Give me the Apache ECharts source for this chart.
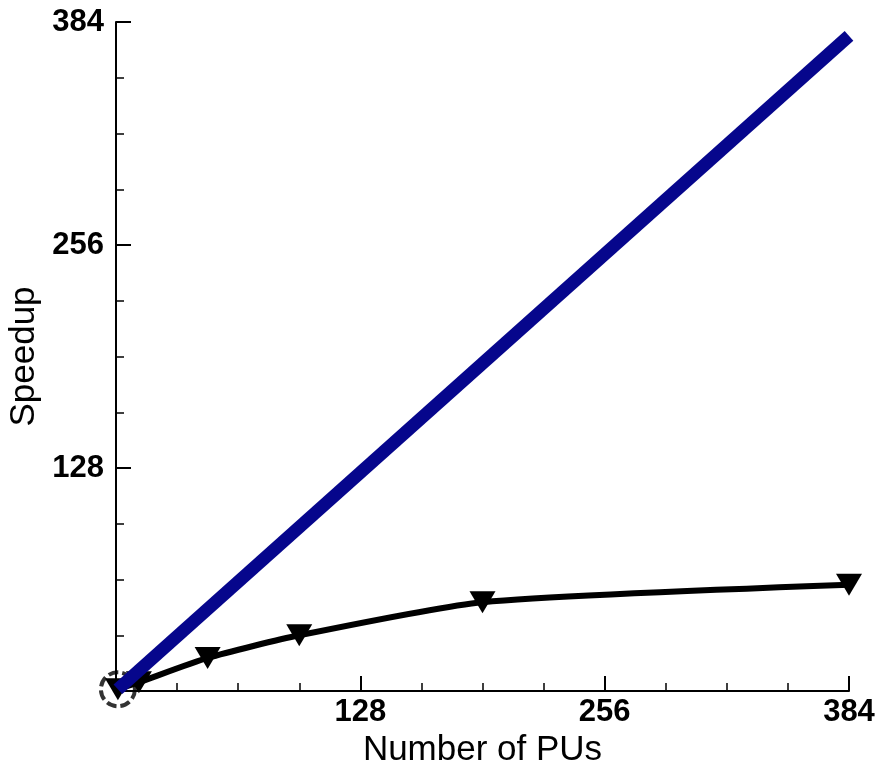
<!DOCTYPE html>
<html>
<head>
<meta charset="utf-8">
<title>Speedup</title>
<script src="https://cdn.jsdelivr.net/npm/echarts@6/dist/echarts.min.js"></script>
<style>
html,body{margin:0;padding:0;background:#fff;}
#main{width:879px;height:767px;}
</style>
</head>
<body>
<div id="main"></div>
<script>
// 数据部分
var xTicks = [0, 128, 256, 384];
var yTicks = [0, 128, 256, 384];
var pus = [1, 12, 48, 96, 192, 384];        // 处理器个数
var speedup = [1, 5, 19, 32, 51, 61];       // 实测加速比
var idealX = [1, 384];
var idealY = [1, 376];                      // 理想线
var markX = [1];
var markY = [1];

function pairs(xs, ys){
    var out = [];
    for(var i = 0; i < xs.length; i++){
        out.push([xs[i], ys[i]]);
    }
    return out;
}

var chart = echarts.init(document.getElementById('main'));
var font = 'Liberation Sans, Arial, Helvetica, sans-serif';

var option = {
    animation: false,
    backgroundColor: '#fff',
    grid: {left: 116, right: 30, top: 22, bottom: 76, outerBoundsMode: 'none'},
    xAxis: {
        type: 'value',
        min: 0, max: 384, interval: 128,
        name: 'Number of PUs',
        nameLocation: 'middle',
        nameGap: 34,
        nameTextStyle: {fontFamily: font, fontSize: 35, color: '#000'},
        axisLine: {onZero: false, lineStyle: {color: '#000', width: 2}},
        axisTick: {inside: true, length: 15, lineStyle: {color: '#000', width: 2}},
        minorTick: {show: true, splitNumber: 4, length: 8, lineStyle: {color: '#000', width: 1.5}},
        axisLabel: {
            fontFamily: font, fontSize: 31, fontWeight: 'bold', color: '#000', margin: 6,
            formatter: function(v){ return (v === 0 || xTicks.indexOf(v) < 0) ? '' : String(v); }
        },
        splitLine: {show: false}
    },
    yAxis: {
        type: 'value',
        min: 0, max: 384, interval: 128,
        name: 'Speedup',
        nameLocation: 'middle',
        nameGap: 72,
        nameTextStyle: {fontFamily: font, fontSize: 35, color: '#000'},
        axisLine: {onZero: false, lineStyle: {color: '#000', width: 2}},
        axisTick: {inside: true, length: 15, lineStyle: {color: '#000', width: 2}},
        minorTick: {show: true, splitNumber: 4, length: 8, lineStyle: {color: '#000', width: 1.5}},
        axisLabel: {
            fontFamily: font, fontSize: 31, fontWeight: 'bold', color: '#000', margin: 12,
            formatter: function(v){ return (v === 0 || yTicks.indexOf(v) < 0) ? '' : String(v); }
        },
        splitLine: {show: false}
    },
    series: [
        {
            type: 'line',
            data: pairs(pus, speedup),
            smooth: 0.2,
            symbol: 'triangle',
            symbolRotate: 180,
            symbolSize: [26, 22],
            itemStyle: {color: '#000'},
            lineStyle: {color: '#000', width: 6},
            z: 2
        },
        {
            type: 'scatter',
            data: pairs(markX, markY),
            symbol: 'circle',
            symbolSize: 34,
            itemStyle: {color: 'rgba(0,0,0,0)', borderColor: '#000', borderWidth: 4, borderType: [10, 4]},
            z: 3
        },
        {
            type: 'line',
            data: pairs(idealX, idealY),
            symbol: 'none',
            lineStyle: {color: '#06068c', width: 13, cap: 'butt'},
            z: 4
        }
    ]
};
chart.setOption(option);
</script>
</body>
</html>
